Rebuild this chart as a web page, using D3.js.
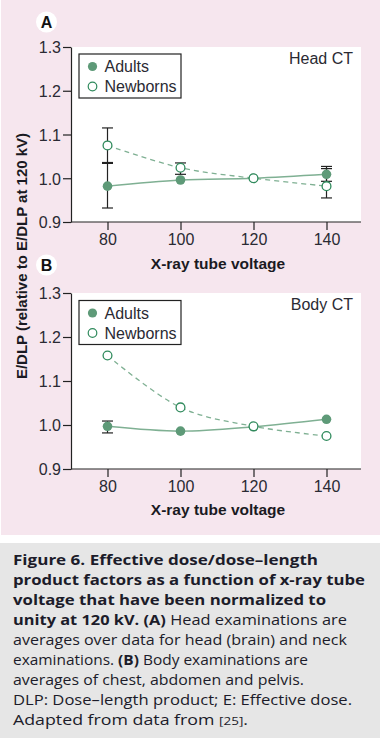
<!DOCTYPE html>
<html><head><meta charset="utf-8">
<script src="https://cdn.jsdelivr.net/npm/d3@7"></script>
<style>html,body{margin:0;padding:0;background:#fff;}svg{display:block;}</style>
</head><body>
<svg id="c" width="380" height="738"></svg>
<script>
const voltages = [80, 100, 120, 140];
const xTicks = [80, 100, 120, 140];
const yTicks = [0.9, 1.0, 1.1, 1.2, 1.3];

// Panel A: Head CT
const headAdults = [0.982, 0.996, 1.0, 1.009];
const headAdultsLow = [0.932, null, null, 0.993];
const headAdultsHigh = [1.034, null, null, 1.027];
const headNewborns = [1.075, 1.024, 1.0, 0.982];
const headNewbornsLow = [1.036, 1.009, null, 0.955];
const headNewbornsHigh = [1.115, 1.035, null, 1.022];

// Panel B: Body CT
const bodyAdults = [0.997, 0.986, 0.996, 1.013];
const bodyAdultsLow = [0.982, null, null, null];
const bodyAdultsHigh = [1.009, null, null, null];
const bodyNewborns = [1.158, 1.040, 0.997, 0.975];
const bodyNewbornsLow = [null, null, null, null];
const bodyNewbornsHigh = [null, null, null, null];

const seriesNames = ["Adults", "Newborns"];
const panelTitles = ["Head CT", "Body CT"];
const panelLetters = ["A", "B"];
const xLabel = "X-ray tube voltage";
const yLabel = "E/DLP (relative to E/DLP at 120 kV)";

const captionLines = [
  [{t:"Figure 6. Effective dose/dose\u2013length", b:true}],
  [{t:"product factors as a function of x-ray tube", b:true}],
  [{t:"voltage that have been normalized to", b:true}],
  [{t:"unity at 120 kV. (A)", b:true},{t:" Head examinations are", b:false}],
  [{t:"averages over data for head (brain) and neck", b:false}],
  [{t:"examinations. ", b:false},{t:"(B)", b:true},{t:" Body examinations are", b:false}],
  [{t:"averages of chest, abdomen and pelvis.", b:false}],
  [{t:"DLP: Dose\u2013length product; E: Effective dose.", b:false}],
  [{t:"Adapted from data from ", b:false},{t:"[25]", b:false, small:true},{t:".", b:false}]
];
const captionEnds = [318, 365, 326, 347, 347, 308, 304, 352, 248];

const svg = d3.select("#c");
const FONT = "'Liberation Sans', Arial, sans-serif";
const green = "#5e9a78";
const green2 = "#2f8a5c";
const lineCol = "#7fb093";

svg.append("rect").attr("x",1).attr("y",0).attr("width",379).attr("height",535).attr("fill","#f6e6ee");
svg.append("rect").attr("x",0).attr("y",543).attr("width",380).attr("height",195).attr("fill","#e6e6e6");

const panels = [
  {top:47, bottom:222, letterY:22, titleY:64, xlabY:269, legTop:54,
   adults:headAdults, aLo:headAdultsLow, aHi:headAdultsHigh,
   newb:headNewborns, nLo:headNewbornsLow, nHi:headNewbornsHigh},
  {top:293, bottom:469, letterY:265, titleY:310, xlabY:515, legTop:300.5,
   adults:bodyAdults, aLo:bodyAdultsLow, aHi:bodyAdultsHigh,
   newb:bodyNewborns, nLo:bodyNewbornsLow, nHi:bodyNewbornsHigh}
];

const left = 71, right = 361;
const x = d3.scaleLinear().domain([70,150]).range([left, left + 80*3.65]);

panels.forEach((p, pi) => {
  const y = d3.scaleLinear().domain([0.9,1.3]).range([p.bottom, p.top]);
  const g = svg.append("g");
  g.append("rect").attr("x",left).attr("y",p.top).attr("width",right-left).attr("height",p.bottom-p.top).attr("fill","#fff");

  const ya = g.append("g").attr("transform",`translate(${left},0)`)
    .call(d3.axisLeft(y).tickValues(yTicks).tickFormat(d3.format(".1f")).tickSize(8).tickPadding(2).tickSizeOuter(0));
  const xa = g.append("g").attr("transform",`translate(0,${p.bottom})`)
    .call(d3.axisBottom(x).tickValues(xTicks).tickSize(8).tickPadding(4).tickSizeOuter(0));
  [ya, xa].forEach(a => {
    a.select(".domain").attr("stroke","#222").attr("stroke-width",1.2);
    a.selectAll(".tick line").attr("stroke","#222").attr("stroke-width",1.2);
    a.selectAll(".tick text").attr("fill","#2a2a33").attr("font-family",FONT).attr("font-size",16);
  });
  xa.select(".domain").attr("d", `M${left},0H${right}`);
  ya.selectAll(".tick text").attr("dy","0.36em");

  const line = d3.line().x((d,i)=>x(voltages[i])).y(d=>y(d)).curve(d3.curveCatmullRom.alpha(0.5));
  g.append("path").attr("d", line(p.newb)).attr("fill","none").attr("stroke",lineCol).attr("stroke-width",1.3).attr("stroke-dasharray","5,4");
  g.append("path").attr("d", line(p.adults)).attr("fill","none").attr("stroke",lineCol).attr("stroke-width",1.4);

  const drawErr = (lo, hi) => {
    voltages.forEach((v,i) => {
      if (lo[i] == null || hi[i] == null) return;
      const cx = x(v);
      g.append("line").attr("x1",cx).attr("x2",cx).attr("y1",y(lo[i])).attr("y2",y(hi[i])).attr("stroke","#222").attr("stroke-width",1.2);
      [lo[i], hi[i]].forEach(val => {
        g.append("line").attr("x1",cx-5.5).attr("x2",cx+5.5).attr("y1",y(val)).attr("y2",y(val)).attr("stroke","#222").attr("stroke-width",1.2);
      });
    });
  };
  drawErr(p.aLo, p.aHi);
  drawErr(p.nLo, p.nHi);

  g.selectAll(null).data(p.adults).enter().append("circle")
    .attr("cx",(d,i)=>x(voltages[i])).attr("cy",d=>y(d)).attr("r",4.8).attr("fill",green);
  g.selectAll(null).data(p.newb).enter().append("circle")
    .attr("cx",(d,i)=>x(voltages[i])).attr("cy",d=>y(d)).attr("r",4.4).attr("fill","#fff").attr("stroke",green2).attr("stroke-width",1.3);

  g.append("text").attr("x",353).attr("y",p.titleY).attr("text-anchor","end").attr("font-family",FONT).attr("font-size",16).attr("fill","#2a2a33").text(panelTitles[pi]);

  const lg = g.append("g").attr("transform",`translate(79,${p.legTop})`);
  lg.append("rect").attr("x",0).attr("y",0).attr("width",102).attr("height",44).attr("fill","#fff").attr("stroke","#222").attr("stroke-width",1.2);
  lg.append("circle").attr("cx",13.5).attr("cy",12.5).attr("r",4.6).attr("fill",green);
  lg.append("circle").attr("cx",13.5).attr("cy",32.5).attr("r",4.3).attr("fill","#fff").attr("stroke",green2).attr("stroke-width",1.2);
  lg.append("text").attr("x",25.5).attr("y",18).attr("font-family",FONT).attr("font-size",16).attr("fill","#2a2a33").text(seriesNames[0]);
  lg.append("text").attr("x",25.5).attr("y",38).attr("font-family",FONT).attr("font-size",16).attr("fill","#2a2a33").text(seriesNames[1]);

  g.append("circle").attr("cx",46.5).attr("cy",p.letterY).attr("r",10.5).attr("fill","#fff");
  g.append("text").attr("x",46.5).attr("y",p.letterY+5.5).attr("text-anchor","middle").attr("font-family",FONT).attr("font-weight","bold").attr("font-size",16).attr("fill","#111").text(panelLetters[pi]);

  g.append("text").attr("x",218).attr("y",p.xlabY).attr("text-anchor","middle").attr("font-family",FONT).attr("font-weight","bold").attr("font-size",15.5).attr("fill","#1a1a22").text(xLabel);
});

svg.append("text").attr("transform","translate(27,256) rotate(-90)").attr("text-anchor","middle")
  .attr("font-family",FONT).attr("font-weight","bold").attr("font-size",15).attr("fill","#1a1a22").text(yLabel);

const CAPFONT = "'Open Sans', 'Noto Sans', sans-serif";
captionLines.forEach((runs, i) => {
  const t = svg.append("text").attr("x",13).attr("y",565 + i*20).attr("font-family",CAPFONT).attr("font-size",14.5).attr("fill","#1c1c2a");
  runs.forEach(r => {
    t.append("tspan").attr("font-weight", r.b ? "bold" : "normal").attr("font-size", r.small ? 11 : 14.5).text(r.t);
  });
  t.attr("textLength", captionEnds[i] - 13).attr("lengthAdjust","spacingAndGlyphs");
});
</script>
</body></html>
